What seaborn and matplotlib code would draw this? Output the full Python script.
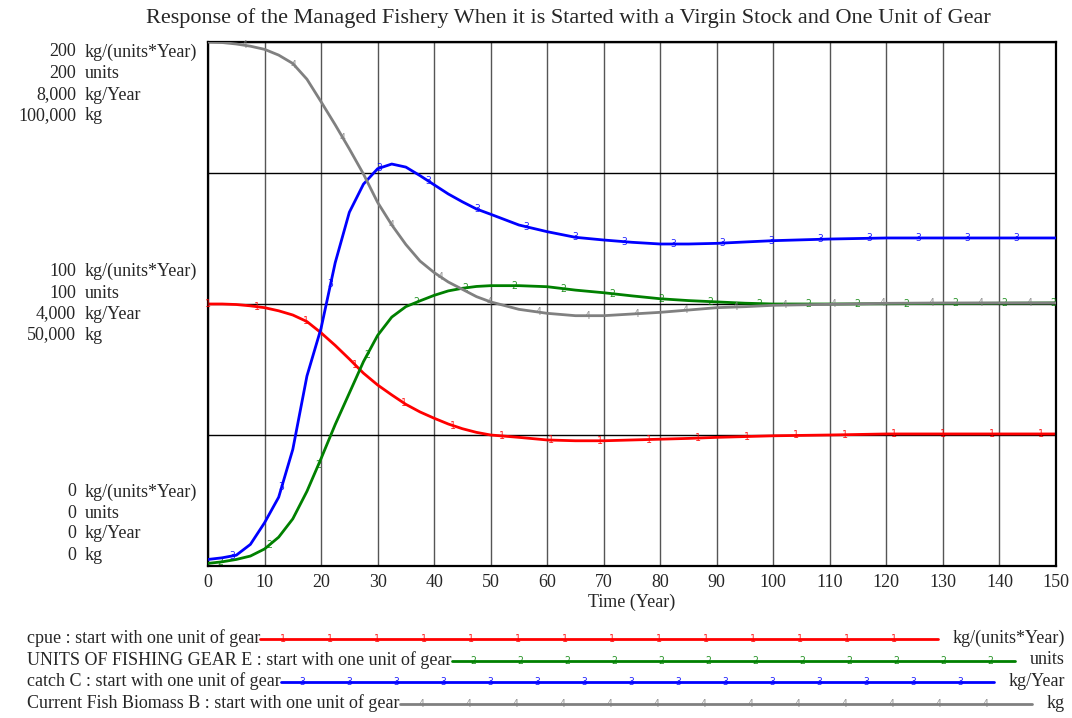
import numpy as np
import matplotlib
matplotlib.use("Agg")
import matplotlib.pyplot as plt
import seaborn as sns
from matplotlib.lines import Line2D

# ---- data (Vensim style run, 0..150 years) ----
time = [0, 2.5, 5, 7.5, 10, 12.5, 15, 17.5, 20, 22.5, 25, 27.5, 30, 32.5, 35, 37.5,
        40, 42.5, 45, 47.5, 50, 55, 60, 65, 70, 75, 80, 85, 90, 95, 100, 110, 120,
        130, 140, 150]
cpue = [100, 100, 99.8, 99.3, 98.6, 97.4, 95.8, 93.3, 89.0, 84.2, 79.0, 73.6, 69.1,
        65.3, 61.7, 58.8, 56.4, 54.2, 52.4, 51.0, 50.0, 49.1, 48.1, 47.8, 47.8, 48.1,
        48.4, 48.7, 49.1, 49.4, 49.7, 50.0, 50.4, 50.4, 50.4, 50.4]
gear = [1, 1.6, 2.5, 3.8, 6.5, 11, 18, 28.5, 41, 54, 66, 78, 88, 95, 99, 101.2, 103.3,
        105, 106, 106.7, 107, 107, 106.6, 105.3, 104.3, 103.1, 102, 101.3, 100.8,
        100.3, 100, 100, 100.1, 100.2, 100.3, 100.4]
catch = [100, 125, 165, 330, 660, 1050, 1780, 2900, 3630, 4630, 5400, 5830, 6065,
         6137, 6090, 5960, 5820, 5680, 5560, 5450, 5370, 5206, 5104, 5018, 4977, 4942,
         4916, 4916, 4926, 4947, 4967, 4992, 5008, 5008, 5008, 5008]
biomass = [100000, 99900, 99620, 99200, 98600, 97500, 95900, 92900, 88600, 84200,
           79600, 74800, 69400, 65100, 61350, 58200, 56000, 54200, 52800, 51400,
           50400, 48980, 48220, 47770, 47770, 48090, 48410, 48850, 49300, 49490,
           49750, 49940, 50130, 50200, 50200, 50200]

series = [cpue, gear, catch, biomass]
names = ["cpue", "UNITS OF FISHING GEAR E", "catch C", "Current Fish Biomass B"]
units = ["kg/(units*Year)", "units", "kg/Year", "kg"]
y_max = [200, 200, 8000, 100000]
colors = ["#ff0000", "#008000", "#0000ff", "#808080"]
run_name = "start with one unit of gear"

sns.set_style("white")
plt.rcParams["font.family"] = ["Liberation Serif", "DejaVu Serif"]

W, H = 1072, 718
fig = plt.figure(figsize=(W / 100, H / 100), dpi=100)
ax = fig.add_axes([208 / W, 1 - 566 / H, (1056 - 208) / W, (566 - 42) / H])

def fx(px):
    return px / W

def fy(py):
    return 1 - py / H

# one axis per variable, each with its own scale
axes = [ax] + [ax.twinx() for _ in range(3)]
for a, top in zip(axes, y_max):
    a.set_xlim(0, 150)
    a.set_ylim(0, top)
    a.set_yticks([])
    for s in a.spines.values():
        s.set_visible(False)

ax.set_yticks([0, 50, 100, 150, 200])
ax.set_yticklabels([])
ax.set_xticks(range(0, 151, 10))
ax.tick_params(axis="both", length=0)
ax.tick_params(axis="x", labelsize=13, pad=6)
ax.grid(axis="x", color="#555555", linewidth=1)
ax.grid(axis="y", color="black", linewidth=1)
ax.set_axisbelow(True)
for s in ax.spines.values():
    s.set_visible(True)
    s.set_color("black")
    s.set_linewidth(1.6)

# curves + number markers
for k, (a, vals, c) in enumerate(zip(axes, series, colors)):
    sns.lineplot(x=time, y=vals, ax=a, color=c, linewidth=2)
    mt = np.arange(k * 2.17, 150.01, 8.67)
    mv = np.interp(mt, time, vals)
    for t, v in zip(mt, mv):
        a.text(t, v, str(k + 1), color=c, fontsize=7, family="DejaVu Sans Mono",
               ha="center", va="center", alpha=0.85)
    a.set_xlabel("")
    a.set_ylabel("")
ax.set_xlabel("Time (Year)", fontsize=13, labelpad=2)

# title
fig.text(fx(568), fy(18), "Response of the Managed Fishery When it is Started with a "
         "Virgin Stock and One Unit of Gear", ha="center", va="center", fontsize=16)

# left scale labels (top / middle / bottom groups)
groups = [(1.0, [52, 73, 95, 116]), (0.5, [271, 293, 314, 335]), (0.0, [492, 513, 534, 556])]
for frac, rows in groups:
    for top, unit, py in zip(y_max, units, rows):
        fig.text(fx(76), fy(py), f"{top * frac:,.0f}", ha="right", va="center", fontsize=13)
        fig.text(fx(85), fy(py), unit, ha="left", va="center", fontsize=13)

# legend rows
leg_y = [638, 660, 681, 703]
label_texts, unit_texts = [], []
for name, unit, py in zip(names, units, leg_y):
    label_texts.append(fig.text(fx(27), fy(py), f"{name} : {run_name}",
                                ha="left", va="center", fontsize=13))
    unit_texts.append(fig.text(fx(1065), fy(py), unit, ha="right", va="center", fontsize=13))

fig.canvas.draw()
r = fig.canvas.get_renderer()
for k, (lt, ut, py, c) in enumerate(zip(label_texts, unit_texts, leg_y, colors)):
    x0 = lt.get_window_extent(r).x1
    x1 = ut.get_window_extent(r).x0 - 15
    yl = fy(py + 1)
    fig.add_artist(Line2D([fx(x0), fx(x1)], [yl, yl], color=c, linewidth=2))
    for mx in np.arange(x0 + 22, x1 - 10, 47):
        fig.text(fx(mx), yl, str(k + 1), color=c, fontsize=7, family="DejaVu Sans Mono",
                 ha="center", va="center", alpha=0.85)

fig.savefig("out.png", dpi=100)
